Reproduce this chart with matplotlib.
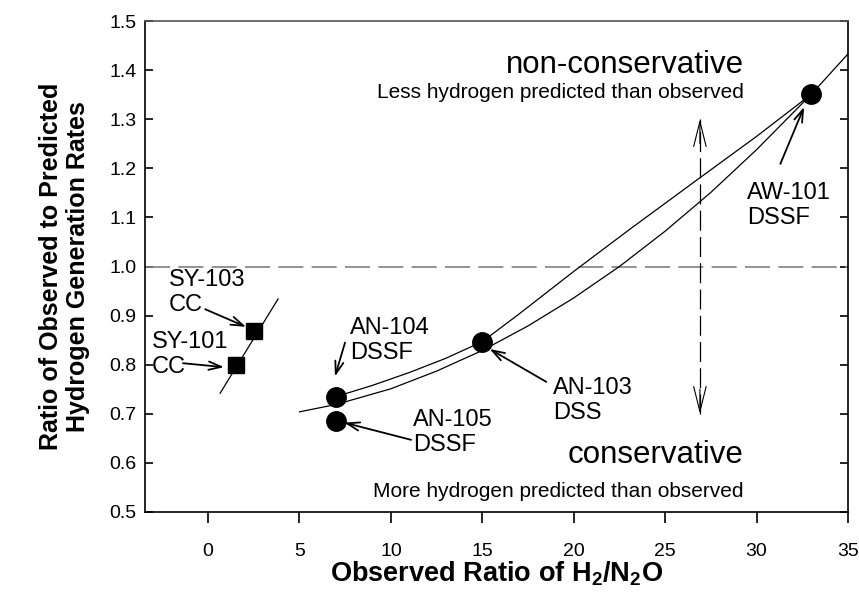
import numpy as np
import matplotlib
matplotlib.use("Agg")
import matplotlib.pyplot as plt

plt.rcParams["font.family"] = ["Liberation Sans", "DejaVu Sans"]
plt.rcParams["mathtext.fontset"] = "custom"
plt.rcParams["mathtext.rm"] = "Liberation Sans"
plt.rcParams["mathtext.bf"] = "Liberation Sans:bold"

# --- data ---
tank_sq = ["SY-103", "SY-101"]
sq_x = [2.5, 1.5]
sq_y = [0.869, 0.800]

tank_dot = ["AN-104", "AN-105", "AN-103", "AW-101"]
dot_x = [7.0, 7.0, 15.0, 33.0]
dot_y = [0.735, 0.685, 0.847, 1.351]

# short line through the SY tanks
sy_line_x = [0.66, 3.83]
sy_line_y = [0.742, 0.934]

# curve joining AN-104 / AN-103 / AW-101
upper_x = [7.0, 9.0, 11.0, 13.0, 15.0, 17.0, 20.0, 23.0, 26.8, 30.0, 33.0]
upper_y = [0.735, 0.758, 0.784, 0.813, 0.847, 0.903, 0.990, 1.074, 1.178, 1.265, 1.351]

# fitted curve over 5..35
lower_x = [5.0, 7.0, 10.0, 12.5, 15.0, 17.5, 20.0, 22.5, 25.0, 27.5, 30.0, 33.0, 35.0]
lower_y = [0.704, 0.719, 0.751, 0.787, 0.829, 0.879, 0.936, 1.000, 1.072, 1.151, 1.238, 1.351, 1.433]

# (label, text x, text y(top), arrow start, arrow end)
notes = [
    ("SY-103\nCC", -2.13, 0.995, (-0.16, 0.913), (2.08, 0.877)),
    ("SY-101\nCC", -3.06, 0.869, (-1.37, 0.803), (0.87, 0.795)),
    ("AN-104\nDSSF", 7.76, 0.897, (7.49, 0.845), (6.94, 0.776)),
    ("AN-105\nDSSF", 11.2, 0.710, (11.1, 0.647), (7.45, 0.682)),
    ("AN-103\nDSS", 18.86, 0.775, (18.5, 0.765), (15.4, 0.832)),
    ("AW-101\nDSSF", 29.47, 1.172, (31.3, 1.209), (32.6, 1.325)),
]

fig = plt.figure(figsize=(8.59, 5.95), dpi=100)
ax = fig.add_axes([0.1688, 0.1395, 0.8184, 0.8252])

ax.axhline(1.0, color="#7f7f7f", lw=1.2, dashes=(15, 5))

ax.plot(sy_line_x, sy_line_y, color="black", lw=0.9)
ax.plot(upper_x, upper_y, color="black", lw=0.9)
ax.plot(lower_x, lower_y, color="black", lw=0.9)

ax.plot(sq_x, sq_y, "s", color="black", ms=12, zorder=5)
ax.plot(dot_x, dot_y, "o", color="black", ms=14, zorder=5)

# vertical double arrow
arr_x = 26.9
ax.plot([arr_x, arr_x], [0.70, 1.30], color="black", lw=0.9, dashes=(16, 5))
for tip, tail in [(1.30, 1.25), (0.70, 0.75)]:
    ax.annotate("", xy=(arr_x, tip), xytext=(arr_x, tail),
                arrowprops=dict(arrowstyle="->,head_length=1.8,head_width=0.45",
                                lw=0.8, color="black", shrinkA=0, shrinkB=0,
                                mutation_scale=10))

for label, tx, ty, a0, a1 in notes:
    ax.text(tx, ty, label, fontsize=17, ha="left", va="top", linespacing=1.2)
    ax.annotate("", xy=a1, xytext=a0,
                arrowprops=dict(arrowstyle="->,head_length=0.9,head_width=0.3",
                                lw=1.3, color="black", shrinkA=0, shrinkB=0,
                                mutation_scale=10))

ax.text(29.3, 1.394, "non-conservative", fontsize=22.5, ha="right", va="baseline")
ax.text(29.3, 1.343, "Less hydrogen predicted than observed", fontsize=15,
        ha="right", va="baseline")
ax.text(29.3, 0.600, "conservative", fontsize=22.5, ha="right", va="baseline")
ax.text(29.3, 0.530, "More hydrogen predicted than observed", fontsize=15,
        ha="right", va="baseline")

ax.set_xlim(-3.45, 35)
ax.set_ylim(0.5, 1.5)
ax.set_xticks(np.arange(0, 36, 5))
ax.set_yticks(np.round(np.arange(0.5, 1.51, 0.1), 1))
ax.set_yticklabels([f"{v:.1f}" for v in np.arange(0.5, 1.51, 0.1)])
ax.tick_params(axis="y", direction="in", left=True, right=True, length=6,
               width=1.2, labelsize=14, pad=6)
ax.tick_params(axis="x", direction="out", top=False, length=8, width=1.2,
               labelsize=14, pad=14)
for sp in ax.spines.values():
    sp.set_linewidth(1.2)
ax.spines["top"].set_color("#555555")

ax.set_xlabel(r"Observed Ratio of H$_\mathbf{2}$/N$_\mathbf{2}$O",
              fontsize=19.5, fontweight="bold", labelpad=0)
ax.set_ylabel("Ratio of Observed to Predicted\nHydrogen Generation Rates",
              fontsize=18, fontweight="bold", labelpad=14, linespacing=1.15)

fig.savefig("out.png", dpi=100)
